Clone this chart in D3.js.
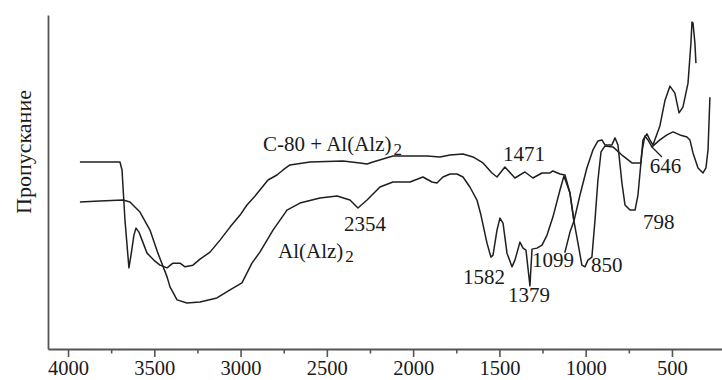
<!DOCTYPE html>
<html>
<head>
<meta charset="utf-8">
<script src="https://cdn.jsdelivr.net/npm/d3@7"></script>
<style>
  html, body { margin: 0; padding: 0; background: #fff; }
  svg { display: block; }
  text { font-family: "Liberation Serif", "Times New Roman", serif; fill: #1a1a1a; }
</style>
</head>
<body>
<svg id="chart" width="722" height="380"></svg>
<script>
// ---- data (wavenumber, cm-1 ; transmittance, arbitrary %) ----
const majorTicks = [4000, 3500, 3000, 2500, 2000, 1500, 1000, 500];
const minorTicks = [3750, 3250, 2750, 2250, 1750, 1250, 750];
const yAxisTitle = "Пропускание";

// C-80 + Al(Alz)2
const c80Wn = [3931,3815,3699,3687,3670,3647,3635,3618,3606,3589,3571,3542,3496,3467,3426,3392,3351,3322,3276,3235,
  3177,3119,3061,3003,2963,2916,2888,2841,2789,2754,2714,2598,2407,2308,2267,2233,2117,1920,1844,1786,
  1711,1653,1595,1543,1514,1468,1410,1352,1306,1253,1207,1190,1149,1120,1091,1068,1091,1120,1091,1068,
  1033,993,958,929,906,888,848,830,813,790,772,743,714,697,674,657,639,616,570,529,
  494,454,413,396,378,349,320,303,291,280];
const c80T = [56.0,56.0,56.0,53.6,38.6,24.3,28.1,34.1,36.2,35.0,32.6,28.7,26.3,25.1,24.3,25.7,25.7,24.6,25.1,26.9,
  29.0,32.6,36.5,40.1,43.1,45.8,47.6,50.6,52.1,53.6,55.1,56.0,56.3,55.7,55.4,56.0,57.8,57.8,57.5,58.1,
  58.4,57.5,55.7,52.7,51.5,54.5,51.2,53.0,51.2,52.7,52.7,53.3,52.4,52.1,46.7,38.3,35.0,29.0,35.0,38.3,
  46.1,54.2,59.6,62.3,62.6,61.1,61.1,63.2,61.1,49.7,43.1,41.6,41.6,46.1,59.0,63.8,62.6,60.5,62.6,64.1,
  65.0,64.1,63.5,62.6,58.7,54.2,52.7,54.2,59.6,75.4];

// Al(Alz)2
const alzWn = [3931,3815,3681,3641,3583,3525,3479,3426,3409,3368,3311,3235,3137,3061,2992,2934,2888,2812,2731,2656,
  2540,2441,2366,2320,2267,2192,2117,2018,1943,1891,1862,1827,1786,1746,1711,1671,1630,1607,1572,1549,
  1537,1514,1497,1479,1456,1427,1410,1381,1363,1346,1323,1311,1282,1253,1224,1190,1149,1126,1091,1068,
  1051,1022,1004,987,964,946,929,911,888,842,784,732,680,668,645,628,610,570,541,512,
  483,459,436,407,390,384,378,367,361];
const alzT = [44.0,44.3,44.6,44.0,41.0,35.6,28.7,21.6,18.6,14.7,13.8,14.1,15.3,17.7,19.8,25.7,29.0,35.6,41.6,43.7,
  45.2,45.8,44.6,42.2,44.6,48.5,50.0,50.0,51.5,50.0,49.7,51.5,52.4,52.4,51.5,48.5,44.6,40.1,31.7,27.5,
  28.1,35.6,39.2,37.7,28.7,24.6,26.6,32.0,30.2,29.6,18.9,29.9,30.2,31.1,34.1,39.5,47.6,51.8,46.7,38.3,
  33.5,25.1,24.6,26.6,27.5,38.6,50.6,59.0,60.8,60.5,57.8,55.7,55.7,62.6,64.4,62.6,61.1,66.8,74.3,78.7,
  76.6,70.7,72.5,79.6,91.6,97.9,97.6,91.6,85.6];

// band labels
const bandText = ["1471", "2354", "1582", "1379", "1099", "850", "798", "646"];
const bandWn   = [1479, 2401, 1711, 1450, 1311, 969, 668, 628];
const bandT    = [56.3, 35.3, 19.5, 14.1, 24.6, 23.1, 35.9, 52.7];
// leader line for 646
const leaderWn = [616, 558];
const leaderT  = [60.5, 57.5];

// series names
const seriesNames = ["C-80 + Al(Alz)", "Al(Alz)"];
const seriesSub = ["2", "2"];
const seriesLabelWn = [2870, 2783];
const seriesLabelT = [59.3, 27.2];

// ---- drawing ----
const svg = d3.select("#chart");
const x = d3.scaleLinear().domain([4116, 210]).range([48, 722]);
const y = d3.scaleLinear().domain([0, 100]).range([349, 15]);

const axisColor = "#555";
const inkColor = "#1f1f1f";

// x axis: major ticks with labels
const gx = svg.append("g").attr("transform", `translate(0,${y(0)})`);
gx.call(d3.axisBottom(x).tickValues(majorTicks).tickSize(8).tickSizeOuter(0).tickFormat(d3.format("d")));
gx.select(".domain").attr("stroke", axisColor).attr("stroke-width", 1.8);
gx.selectAll(".tick line").attr("stroke", axisColor).attr("stroke-width", 1.6);
gx.selectAll(".tick text")
  .attr("y", 26).attr("dy", 0)
  .style("font-family", '"Liberation Serif", serif')
  .style("font-size", "20.5px").attr("fill", "#1a1a1a");

// minor ticks
const gm = svg.append("g").attr("transform", `translate(0,${y(0)})`);
gm.call(d3.axisBottom(x).tickValues(minorTicks).tickSize(4.5).tickSizeOuter(0).tickFormat(""));
gm.select(".domain").remove();
gm.selectAll(".tick line").attr("stroke", axisColor).attr("stroke-width", 1.6);

// y axis: line only
const gy = svg.append("g").attr("transform", `translate(${x(4116)},0)`);
gy.call(d3.axisLeft(y).tickValues([]).tickSizeOuter(0));
gy.select(".domain").attr("stroke", axisColor).attr("stroke-width", 1.8);

// y title
svg.append("text")
  .attr("transform", `translate(31,${(y(0) + y(100)) / 2 - 30}) rotate(-90)`)
  .attr("text-anchor", "middle")
  .style("font-size", "22px")
  .text(yAxisTitle);

// curves
const line = d3.line().x(d => x(d[0])).y(d => y(d[1])).curve(d3.curveLinear);
const c80 = c80Wn.map((w, i) => [w, c80T[i]]);
const alz = alzWn.map((w, i) => [w, alzT[i]]);
[c80, alz].forEach(s => {
  svg.append("path").datum(s)
    .attr("d", line)
    .attr("fill", "none")
    .attr("stroke", inkColor)
    .attr("stroke-width", 1.5)
    .attr("stroke-linejoin", "round");
});
svg.append("path").datum(leaderWn.map((w, i) => [w, leaderT[i]]))
  .attr("d", line).attr("fill", "none").attr("stroke", inkColor).attr("stroke-width", 1.3);

// band labels
bandText.forEach((t, i) => {
  svg.append("text")
    .attr("x", x(bandWn[i])).attr("y", y(bandT[i]))
    .style("font-size", "21px")
    .text(t);
});

// series labels with subscript
seriesNames.forEach((t, i) => {
  const txt = svg.append("text")
    .attr("x", x(seriesLabelWn[i])).attr("y", y(seriesLabelT[i]))
    .style("font-size", "21px");
  txt.append("tspan").text(t);
  txt.append("tspan").attr("dx", 2).attr("dy", 4).style("font-size", "17px").text(seriesSub[i]);
});
</script>
</body>
</html>
